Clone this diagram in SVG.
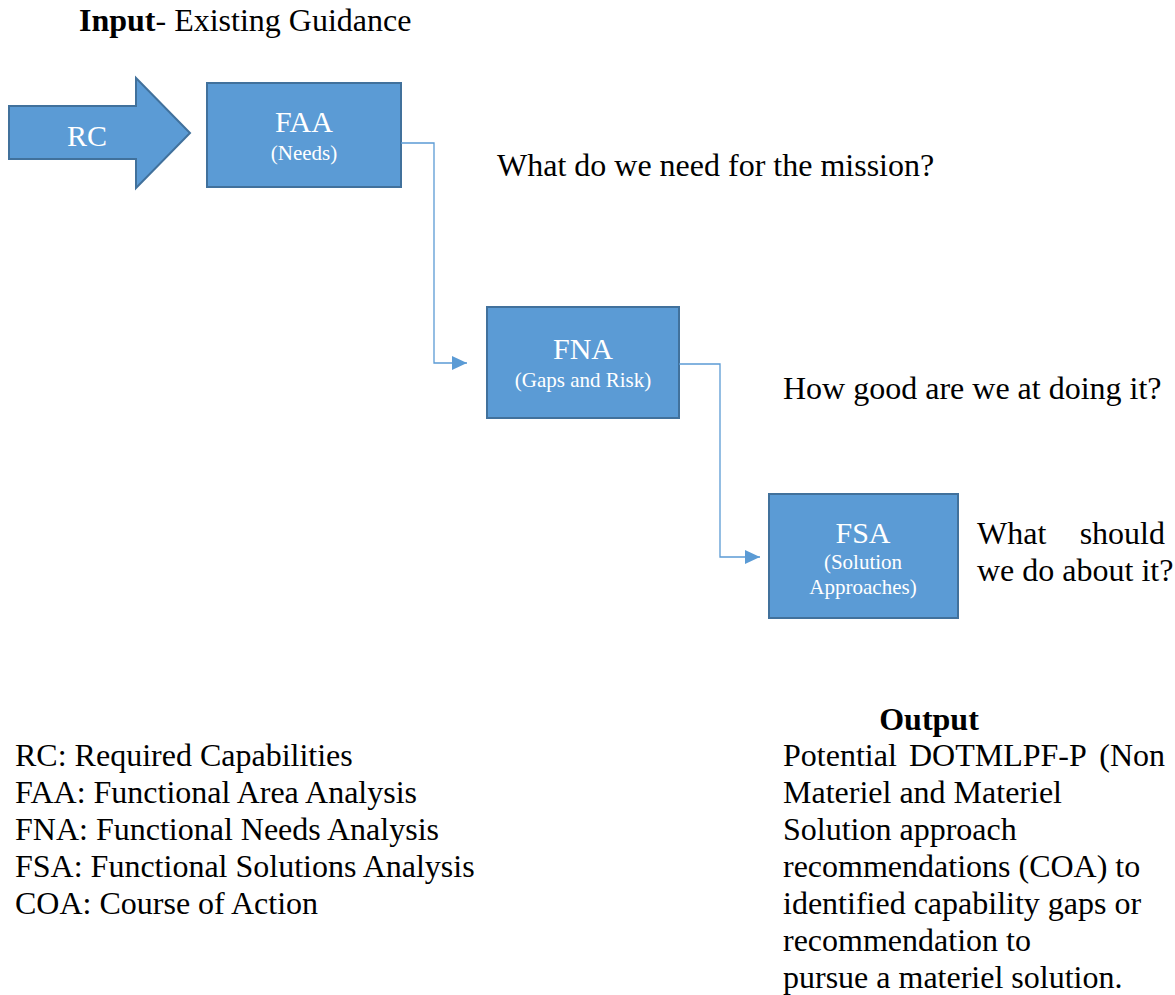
<svg xmlns="http://www.w3.org/2000/svg" width="1175" height="995" viewBox="0 0 1175 995">
<defs>
<style>
.box{fill:#5B9BD5;stroke:#41719C;stroke-width:2}
.conn{fill:none;stroke:#5B9BD5;stroke-width:1.3}
text{font-family:'Liberation Serif','Times New Roman',Times,'DejaVu Serif',serif}
.t{fill:#000;font-size:32px}
.b{font-weight:bold}
.w{fill:#fff;text-anchor:middle}
.big{font-size:30px}
.sm{font-size:21px}
</style>
<marker id="ah" markerWidth="16" markerHeight="14" refX="15" refY="7" orient="auto" markerUnits="userSpaceOnUse">
<path d="M0,0 L15,7 L0,14 Z" fill="#5B9BD5"/>
</marker>
</defs>
<rect width="1175" height="995" fill="#fff"/>

<text class="t" x="79" y="31" font-family="Liberation Serif"><tspan class="b">Input</tspan>- Existing Guidance</text>

<g id="rc">
<path class="box" d="M9,106 L136,106 L136,78 L190,133 L136,188 L136,159 L9,159 Z"/>
<text class="w big" x="87" y="146">RC</text>
</g>

<g id="faa">
<rect class="box" x="207" y="83" width="194" height="104"/>
<text class="w big" x="304" y="132">FAA</text>
<text class="w sm" x="304" y="160">(Needs)</text>
</g>

<g id="fna">
<rect class="box" x="487" y="307" width="192" height="111"/>
<text class="w big" x="583" y="359">FNA</text>
<text class="w sm" x="583" y="387">(Gaps and Risk)</text>
</g>

<g id="fsa">
<rect class="box" x="769" y="494" width="189" height="124"/>
<text class="w big" x="863" y="543">FSA</text>
<text class="w sm" x="863" y="569">(Solution</text>
<text class="w sm" x="863" y="594">Approaches)</text>
</g>

<g id="connectors">
<path class="conn" d="M401,143 H434 V363 H467" marker-end="url(#ah)"/>
<path class="conn" d="M679,364 H720 V557 H760" marker-end="url(#ah)"/>
</g>

<g id="questions">
<text class="t" x="497" y="176">What do we need for the mission?</text>
<text class="t" x="783" y="399">How good are we at doing it?</text>
<text class="t" x="977" y="544">What</text>
<text class="t" x="1165" y="544" text-anchor="end">should</text>
<text class="t" x="977" y="581">we do about it?</text>
</g>

<g id="legend">
<text class="t" x="15" y="766">RC: Required Capabilities</text>
<text class="t" x="15" y="803">FAA: Functional Area Analysis</text>
<text class="t" x="15" y="840">FNA: Functional Needs Analysis</text>
<text class="t" x="15" y="877">FSA: Functional Solutions Analysis</text>
<text class="t" x="15" y="914">COA: Course of Action</text>
</g>

<g id="output">
<text class="t b" x="929" y="730" text-anchor="middle">Output</text>
<text class="t" x="783" y="766">Potential</text>
<text class="t" x="909" y="766">DOTMLPF-P</text>
<text class="t" x="1165" y="766" text-anchor="end">(Non</text>
<text class="t" x="783" y="803">Materiel and Materiel</text>
<text class="t" x="783" y="840">Solution approach</text>
<text class="t" x="783" y="877">recommendations (COA) to</text>
<text class="t" x="783" y="914">identified capability gaps or</text>
<text class="t" x="783" y="951">recommendation to</text>
<text class="t" x="783" y="988">pursue a materiel solution.</text>
</g>
</svg>
